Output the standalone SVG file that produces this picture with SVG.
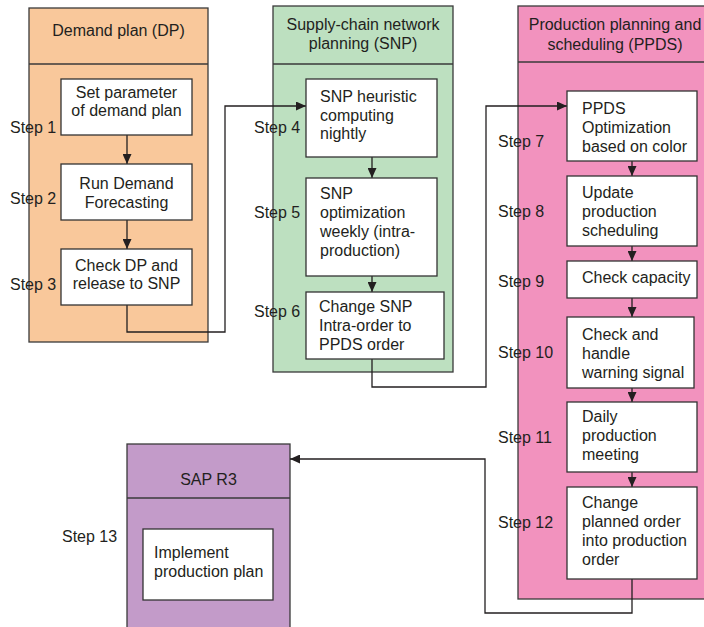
<svg xmlns="http://www.w3.org/2000/svg" width="704" height="627" viewBox="0 0 704 627">
<style>
text{font-family:"Liberation Sans",Arial,sans-serif;font-size:16px;fill:#231f20}
.c{text-anchor:middle}
.lane{stroke:#3a3a3a;stroke-width:1.3}
.box{fill:#fff;stroke:#333;stroke-width:1.3}
.conn{fill:none;stroke:#231f20;stroke-width:1.3}
</style>
<defs>
<marker id="ah" markerUnits="userSpaceOnUse" markerWidth="10" markerHeight="9" refX="10" refY="4.5" orient="auto">
<path d="M0,0 L10,4.5 L0,9 z" fill="#231f20"/>
</marker>
</defs>
<rect width="704" height="627" fill="#fff"/>

<g id="lane-dp">
<rect class="lane" x="29" y="8" width="179" height="334" fill="#f9c89b"/>
<line class="lane" x1="29" y1="64" x2="208" y2="64"/>
<text class="c" x="118.5" y="36">Demand plan (DP)</text>
</g>
<g id="lane-snp">
<rect class="lane" x="273" y="6" width="180" height="366" fill="#bde0c0"/>
<line class="lane" x1="273" y1="64" x2="453" y2="64"/>
<text class="c" x="363" y="30">Supply-chain network</text>
<text class="c" x="363" y="49">planning (SNP)</text>
</g>
<g id="lane-ppds">
<rect class="lane" x="518" y="6" width="200" height="593" fill="#f292be"/>
<line class="lane" x1="518" y1="62" x2="718" y2="62"/>
<text class="c" x="615" y="30">Production planning and</text>
<text class="c" x="615" y="50">scheduling (PPDS)</text>
</g>
<g id="lane-sap">
<rect class="lane" x="127" y="444" width="163" height="200" fill="#c39bc9"/>
<line class="lane" x1="127" y1="498" x2="290" y2="498"/>
<text class="c" x="208.5" y="485">SAP R3</text>
</g>

<g id="connectors">
<line class="conn" x1="127" y1="135" x2="127" y2="164" marker-end="url(#ah)"/>
<line class="conn" x1="127" y1="220" x2="127" y2="249" marker-end="url(#ah)"/>
<polyline class="conn" points="127,305 127,332 225,332 225,106 306,106" marker-end="url(#ah)"/>
<line class="conn" x1="372" y1="157" x2="372" y2="178" marker-end="url(#ah)"/>
<line class="conn" x1="372" y1="276" x2="372" y2="292" marker-end="url(#ah)"/>
<polyline class="conn" points="372,359 372,387 486,387 486,106 567,106" marker-end="url(#ah)"/>
<line class="conn" x1="632" y1="161" x2="632" y2="176" marker-end="url(#ah)"/>
<line class="conn" x1="632" y1="246" x2="632" y2="261" marker-end="url(#ah)"/>
<line class="conn" x1="632" y1="298" x2="632" y2="317" marker-end="url(#ah)"/>
<line class="conn" x1="632" y1="388" x2="632" y2="402" marker-end="url(#ah)"/>
<line class="conn" x1="632" y1="472" x2="632" y2="487" marker-end="url(#ah)"/>
<polyline class="conn" points="632,579 632,613 485,613 485,459 290,459" marker-end="url(#ah)"/>
</g>

<g id="step1">
<rect class="box" x="61" y="79" width="131" height="56"/>
<text class="c" x="126.5" y="98">Set parameter</text>
<text class="c" x="126.5" y="116">of demand plan</text>
<text x="10" y="133">Step 1</text>
</g>
<g id="step2">
<rect class="box" x="61" y="164" width="131" height="56"/>
<text class="c" x="126.5" y="189">Run Demand</text>
<text class="c" x="126.5" y="208">Forecasting</text>
<text x="10" y="204">Step 2</text>
</g>
<g id="step3">
<rect class="box" x="61" y="249" width="131" height="56"/>
<text class="c" x="126.5" y="271">Check DP and</text>
<text class="c" x="126.5" y="289">release to SNP</text>
<text x="10" y="290">Step 3</text>
</g>

<g id="step4">
<rect class="box" x="306" y="79" width="131" height="78"/>
<text x="320" y="102">SNP heuristic</text>
<text x="320" y="120.5">computing</text>
<text x="320" y="139">nightly</text>
<text x="254" y="133">Step 4</text>
</g>
<g id="step5">
<rect class="box" x="306" y="178" width="131" height="98"/>
<text x="320" y="199">SNP</text>
<text x="320" y="218">optimization</text>
<text x="320" y="237">weekly (intra-</text>
<text x="320" y="256">production)</text>
<text x="254" y="218">Step 5</text>
</g>
<g id="step6">
<rect class="box" x="306" y="292" width="138" height="67"/>
<text x="319" y="312">Change SNP</text>
<text x="319" y="331">Intra-order to</text>
<text x="319" y="350">PPDS order</text>
<text x="254" y="317">Step 6</text>
</g>

<g id="step7">
<rect class="box" x="567" y="91" width="130" height="70"/>
<text x="582" y="114">PPDS</text>
<text x="582" y="133">Optimization</text>
<text x="582" y="152">based on color</text>
<text x="498" y="147">Step 7</text>
</g>
<g id="step8">
<rect class="box" x="567" y="176" width="130" height="70"/>
<text x="582" y="198">Update</text>
<text x="582" y="217">production</text>
<text x="582" y="236">scheduling</text>
<text x="498" y="217">Step 8</text>
</g>
<g id="step9">
<rect class="box" x="567" y="261" width="130" height="37"/>
<text x="582" y="283">Check capacity</text>
<text x="498" y="287">Step 9</text>
</g>
<g id="step10">
<rect class="box" x="567" y="317" width="127" height="71"/>
<text x="582" y="340">Check and</text>
<text x="582" y="359">handle</text>
<text x="582" y="378">warning signal</text>
<text x="498" y="358">Step 10</text>
</g>
<g id="step11">
<rect class="box" x="567" y="402" width="130" height="70"/>
<text x="582" y="422">Daily</text>
<text x="582" y="441">production</text>
<text x="582" y="460">meeting</text>
<text x="498" y="443">Step 11</text>
</g>
<g id="step12">
<rect class="box" x="567" y="487" width="130" height="92"/>
<text x="582" y="508">Change</text>
<text x="582" y="527">planned order</text>
<text x="582" y="546">into production</text>
<text x="582" y="565">order</text>
<text x="498" y="528">Step 12</text>
</g>

<g id="step13">
<rect class="box" x="143" y="529" width="130" height="71"/>
<text x="154" y="558">Implement</text>
<text x="154" y="577">production plan</text>
<text x="62" y="542">Step 13</text>
</g>
</svg>
